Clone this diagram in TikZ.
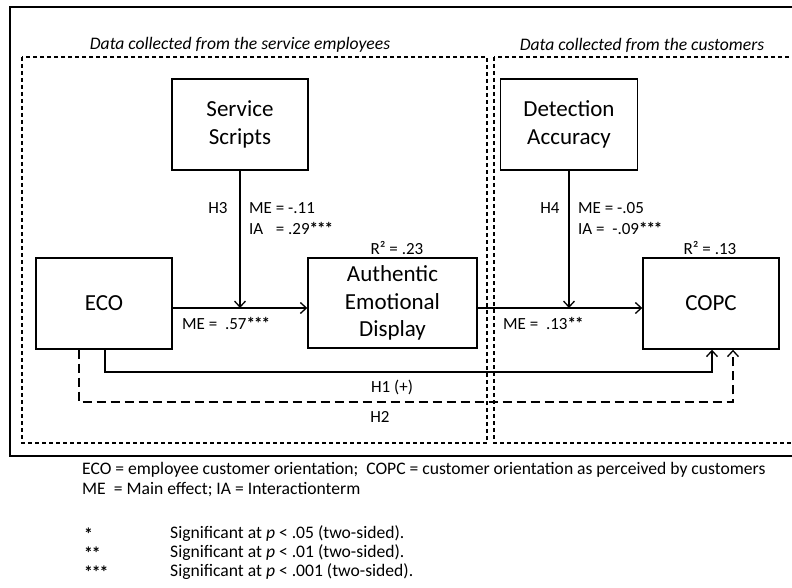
\documentclass[tikz,border=0pt]{standalone}
\usepackage{fontspec}
\setmainfont{Carlito}
\usetikzlibrary{arrows.meta}
% significance marks, set tight and heavy
\newcommand\sigmark[1]{{\bfseries\ifcase#1\or*\or*\kern-1pt*\or*\kern-1pt*\kern-1pt*\fi}}
\begin{document}
\begin{tikzpicture}[x=1pt,y=-1pt,
  box/.style={draw, line width=1.4pt, inner sep=0pt, align=center,
    font=\fontsize{23}{27.5}\selectfont},
  lbl/.style={font=\fontsize{17}{20}\selectfont, inner sep=0pt},
  head/.style={font=\fontsize{17.6}{20}\selectfont\itshape, inner sep=0pt},
  note/.style={font=\fontsize{17.6}{21}\selectfont, inner sep=0pt, anchor=west},
  link/.style={line width=1.3pt, -{Straight Barb[length=6pt,width=11pt,line width=1.3pt]}},
  dlink/.style={link, dash pattern=on 9pt off 5pt},
  zone/.style={line width=1.4pt, dash pattern=on 4pt off 3pt},
]
\useasboundingbox (0,0) rectangle (792,588);

% frame and the two data-source zones
\begin{scope}
  \clip (0,0) rectangle (792,588);
  \draw[line width=1.6pt] (10,7) rectangle (812,456);
  \draw[zone] (22,57) rectangle (487,443);
  \draw[zone] (494,57) rectangle (812,443);
\end{scope}
\node[head] (hemp) at (240,45) {Data collected from the service employees};
\node[head] (hcus) at (642,45) {Data collected from the customers};

% constructs
\node[box, minimum width=136pt, minimum height=91pt] (ss) at (240,124.5) {Service\\Scripts};
\node[box, minimum width=137pt, minimum height=91pt] (da) at (569,124.5) {Detection\\Accuracy};
\node[box, minimum width=136pt, minimum height=91pt] (eco) at (104,303.5) {ECO};
\node[box, minimum width=169pt, minimum height=90pt] (aed) at (392.5,303) {Authentic\\Emotional\\Display};
\node[box, minimum width=136pt, minimum height=91pt] (copc) at (711,303.5) {COPC};

% helper coordinates for the connector routes
\coordinate (mainy) at (0,308);
\coordinate (h1a) at (105,372);
\coordinate (h1b) at (712,372);
\coordinate (h2a) at (79,402);
\coordinate (h2b) at (733,402);

% paths
\draw[link] (eco.east |- mainy) -- (aed.west |- mainy);
\draw[link] (aed.east |- mainy) -- (copc.west |- mainy);
\draw[link] (ss.south) -- (ss.south |- mainy);
\draw[link] (da.south) -- (da.south |- mainy);
\draw[link] (eco.south -| h1a) -- (h1a) -- (h1b) -- (copc.south -| h1b);
\draw[dlink] (eco.south -| h2a) -- (h2a) -- (h2b) -- (copc.south -| h2b);

% coefficients
\node[lbl] (h3) at (218,208) {H3};
\node[lbl, anchor=west] (me3) at (249,208) {ME = -.11};
\node[lbl, anchor=west] (ia3) at (249,228) {\rlap{IA}\hphantom{ME} = .29\sigmark3};
\node[lbl] (r1) at (397,248.5) {R² = .23};
\node[lbl, anchor=west] (me1) at (182,323) {ME =\ \ .57\sigmark3};

\node[lbl] (h4) at (550,208) {H4};
\node[lbl, anchor=west] (me4) at (578,208) {ME = -.05};
\node[lbl, anchor=west] (ia4) at (578,228) {IA =\ \ -.09\sigmark3};
\node[lbl] (r2) at (710,248) {R² = .13};
\node[lbl, anchor=west] (me2) at (503,323) {ME =\ \ .13\sigmark2};

\node[lbl] (h1) at (392,387) {H1 (+)};
\node[lbl] (h2) at (380,417) {H2};

% legend
\node[note] (l1) at (82,470) {ECO = employee customer orientation;\ \ COPC = customer orientation as perceived by customers};
\node[note] (l2) at (82,490) {ME\ \ = Main effect; IA = Interactionterm};
\node[note] (s1) at (84,534) {\sigmark1};
\node[note] (s2) at (84,553) {\sigmark2};
\node[note] (s3) at (84,572) {\sigmark3};
\node[note] (t1) at (170,534) {Significant at \textit{p} < .05 (two-sided).};
\node[note] (t2) at (170,553) {Significant at \textit{p} < .01 (two-sided).};
\node[note] (t3) at (170,572) {Significant at \textit{p} < .001 (two-sided).};
\end{tikzpicture}
\end{document}
